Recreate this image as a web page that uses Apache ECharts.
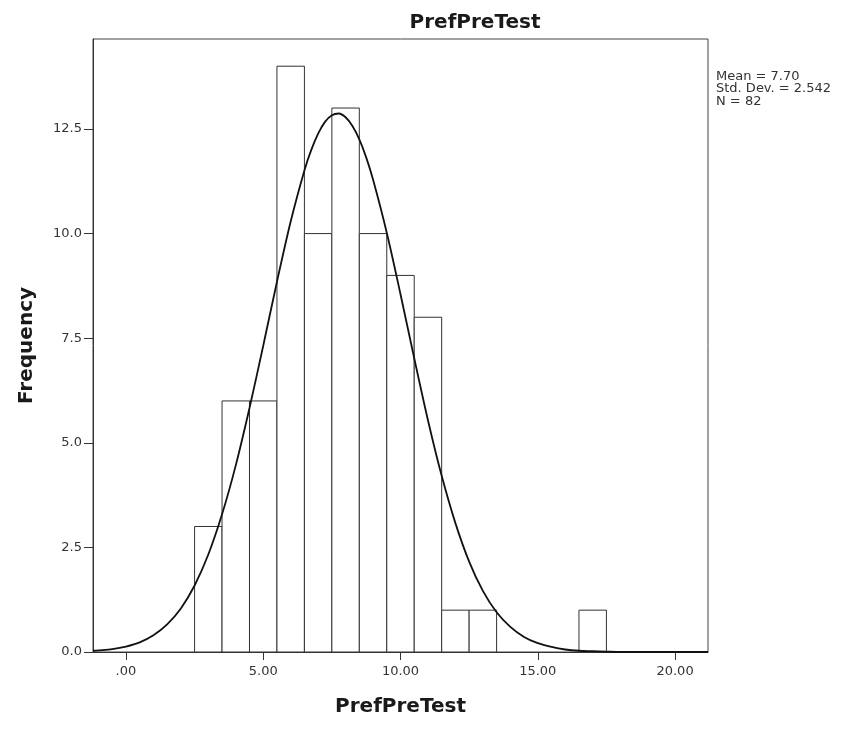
<!DOCTYPE html>
<html>
<head>
<meta charset="utf-8">
<script src="https://cdn.jsdelivr.net/npm/echarts@6/dist/echarts.min.js"></script>
<style>
  html, body { margin: 0; padding: 0; background: #fff; }
  #graph { width: 859px; height: 732px; }
</style>
</head>
<body>
<div id="graph"></div>
<script>
// histogram bins (centre of each 1-wide bin) and counts
var binCentres = [3, 4, 5, 6, 7, 8, 9, 10, 11, 12, 13, 17];
var binCounts = [3, 6, 6, 14, 10, 13, 10, 9, 8, 1, 1, 1];

// normal curve
var curveX = [-1.2, -1, -0.5, 0, 0.5, 1, 1.5, 2, 2.5, 3, 3.5, 4, 4.5, 5, 5.5, 6, 6.5, 6.75, 7, 7.25, 7.5, 7.75, 8, 8.25, 8.5, 8.75, 9, 9.5,
  10, 10.5, 11, 11.5, 12, 12.5, 13, 13.5, 14, 14.5, 15, 15.5, 16, 16.5, 17, 17.5, 18, 19, 20, 21.2];
var curveY = [0.03, 0.04, 0.07, 0.13, 0.23, 0.40, 0.66, 1.04, 1.59, 2.33, 3.29, 4.46, 5.83, 7.32, 8.85, 10.29, 11.51, 12.00, 12.39, 12.67, 12.83, 12.87, 12.78, 12.57, 12.25, 11.82, 11.29, 10.02,
  8.55, 7.02, 5.54, 4.21, 3.08, 2.16, 1.46, 0.95, 0.60, 0.36, 0.21, 0.12, 0.06, 0.03, 0.02, 0.01, 0, 0, 0, 0];

var xTickValues = [0, 5, 10, 15, 20];
var xTickLabels = ['.00', '5.00', '10.00', '15.00', '20.00'];
var yTickValues = [0, 2.5, 5, 7.5, 10, 12.5];
var yTickLabels = ['0.0', '2.5', '5.0', '7.5', '10.0', '12.5'];

var statsLines = ['Mean = 7.70', 'Std. Dev. = 2.542', 'N = 82'];

var chartDom = document.getElementById('graph');
var myChart = echarts.init(chartDom);
var option;

var font = 'DejaVu Sans, sans-serif';

option = {
  animation: false,
  backgroundColor: '#fff',
  title: {
    text: 'PrefPreTest',
    left: 470,
    top: 8,
    textAlign: 'center',
    textStyle: { fontFamily: font, fontSize: 20, fontWeight: 'bold', color: '#1a1a1a' }
  },
  grid: {
    left: 93, right: 151, top: 39, bottom: 80,
    show: true, borderColor: '#444', borderWidth: 1, backgroundColor: '#fff'
  },
  xAxis: {
    type: 'value',
    min: -1.2,
    max: 21.2,
    name: 'PrefPreTest',
    nameLocation: 'middle',
    nameGap: 45,
    nameTextStyle: { fontFamily: font, fontSize: 20, fontWeight: 'bold', color: '#1a1a1a' },
    axisLine: { show: true, onZero: false, lineStyle: { color: '#333', width: 1 } },
    axisTick: { show: true, customValues: xTickValues, length: 8, lineStyle: { color: '#333' } },
    axisLabel: {
      customValues: xTickValues,
      fontFamily: font, fontSize: 13, color: '#333', margin: 13,
      formatter: function (v) { return xTickLabels[xTickValues.indexOf(v)]; }
    },
    splitLine: { show: false }
  },
  yAxis: {
    type: 'value',
    min: 0,
    max: 14.65,
    name: 'Frequency',
    nameLocation: 'middle',
    nameGap: 56,
    nameTextStyle: { fontFamily: font, fontSize: 20, fontWeight: 'bold', color: '#1a1a1a' },
    axisLine: { show: true, onZero: false, lineStyle: { color: '#333', width: 1 } },
    axisTick: { show: true, customValues: yTickValues, length: 9, lineStyle: { color: '#333' } },
    axisLabel: {
      customValues: yTickValues,
      fontFamily: font, fontSize: 13, color: '#333', margin: 11,
      formatter: function (v) { return yTickLabels[yTickValues.indexOf(v)]; }
    },
    splitLine: { show: false }
  },
  graphic: [{
    type: 'text',
    left: 716,
    top: 70,
    style: {
      text: statsLines.join('\n'),
      font: '13px ' + font,
      lineHeight: 12.5,
      fill: '#333'
    }
  }],
  series: [
    {
      type: 'custom',
      data: binCentres.map(function (c, i) { return [c, binCounts[i]]; }),
      renderItem: function (params, api) {
        var c = api.value(0);
        var v = api.value(1);
        var p0 = api.coord([c - 0.5, v]);
        var p1 = api.coord([c + 0.5, 0]);
        return {
          type: 'rect',
          shape: { x: p0[0], y: p0[1], width: p1[0] - p0[0], height: p1[1] - p0[1] },
          style: { fill: '#fff', stroke: '#333', lineWidth: 1 }
        };
      },
      z: 2
    },
    {
      type: 'line',
      data: curveX.map(function (x, i) { return [x, curveY[i]]; }),
      smooth: 0.3,
      showSymbol: false,
      lineStyle: { color: '#111', width: 1.8 },
      z: 3
    }
  ]
};

option && myChart.setOption(option);
</script>
</body>
</html>
